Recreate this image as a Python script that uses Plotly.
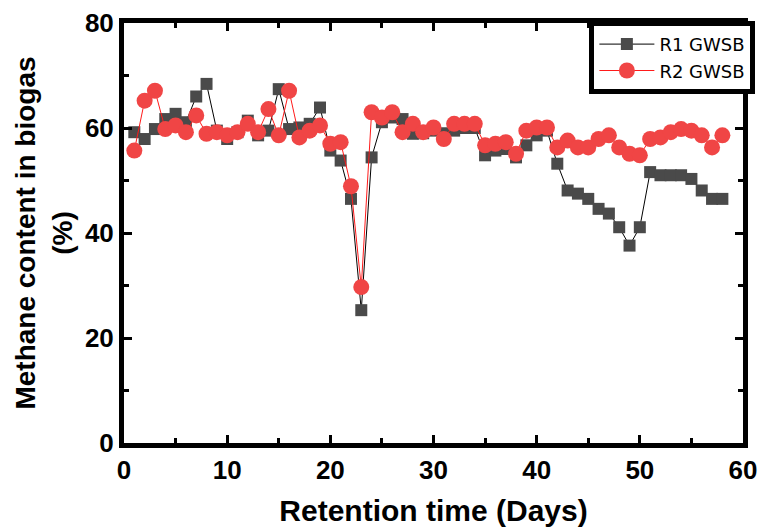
import plotly.graph_objects as go

days = list(range(1, 59))
r1_gwsb = [59.2, 57.9, 59.8, 61.7, 62.7, 61.1, 66.0, 68.4, 59.5, 57.9,
           59.2, 61.4, 58.6, 59.5, 67.4, 59.8, 60.1, 60.8, 63.9, 55.7,
           53.8, 46.5, 25.3, 54.4, 61.1, 62.0, 61.7, 58.9, 59.0, 59.5,
           59.0, 59.5, 60.0, 60.0, 54.8, 55.7, 56.0, 54.4, 56.7, 58.6,
           59.5, 53.2, 48.1, 47.5, 46.5, 44.6, 43.7, 41.1, 37.6, 41.1,
           51.6, 51.0, 51.0, 51.0, 50.3, 48.1, 46.5, 46.5]
r2_gwsb = [55.7, 65.2, 67.1, 59.8, 60.5, 59.2, 62.4, 58.9, 59.2, 58.6,
           59.2, 60.8, 59.2, 63.6, 58.6, 67.1, 58.2, 59.5, 60.5, 57.0,
           57.3, 48.9, 29.7, 63.0, 62.0, 63.0, 59.2, 60.8, 59.2, 60.1,
           57.9, 60.8, 60.8, 60.8, 56.7, 57.0, 57.3, 55.1, 59.5, 60.1,
           60.1, 56.3, 57.6, 56.3, 56.3, 57.9, 58.6, 56.3, 55.1, 54.8,
           57.9, 58.2, 59.2, 59.8, 59.5, 58.6, 56.3, 58.6]
x_ticks = [0, 10, 20, 30, 40, 50, 60]
y_ticks = [0, 20, 40, 60, 80]

FONT = "Liberation Sans, Arial"

fig = go.Figure()
fig.add_trace(go.Scatter(
    x=days, y=r1_gwsb, mode="lines+markers", name="R1 GWSB",
    line=dict(color="black", width=1),
    marker=dict(symbol="square", size=12, color="#4a4a4a"),
))
fig.add_trace(go.Scatter(
    x=days, y=r2_gwsb, mode="lines+markers", name="R2 GWSB",
    line=dict(color="#ff1a1a", width=1),
    marker=dict(symbol="circle", size=16, color="#f04545"),
))

axis_common = dict(
    showline=True, linecolor="black", linewidth=5, mirror="allticks",
    ticks="inside", ticklen=8, tickwidth=3, tickcolor="black",
    showgrid=False, zeroline=False, automargin=False,
    tickfont=dict(family=FONT, size=26, color="black", weight="bold"),
)

fig.update_xaxes(
    range=[0, 60], tickvals=x_ticks,
    minor=dict(dtick=5, ticks="inside", ticklen=5, tickwidth=3, tickcolor="black"),
    title=dict(text="Retention time (Days)", standoff=23,
               font=dict(family=FONT, size=30, color="black", weight="bold")),
    **axis_common,
)
fig.update_yaxes(
    range=[0, 80], tickvals=y_ticks,
    minor=dict(dtick=10, ticks="inside", ticklen=5, tickwidth=3, tickcolor="black"),
    title=dict(text="Methane content in biogas<br>(%)", standoff=6,
               font=dict(family=FONT, size=28, color="black", weight="bold")),
    **axis_common,
)

fig.update_layout(
    width=767, height=527,
    margin=dict(l=124, r=16, t=23, b=84),
    paper_bgcolor="white", plot_bgcolor="white",
    showlegend=True,
    legend=dict(
        x=1.02, y=1.005, xanchor="right", yanchor="top",
        bgcolor="white", bordercolor="black", borderwidth=5,
        font=dict(family="DejaVu Sans, Liberation Sans", size=18, color="black"),
        itemwidth=55, tracegroupgap=0,
    ),
)

fig.write_html("out.html")
